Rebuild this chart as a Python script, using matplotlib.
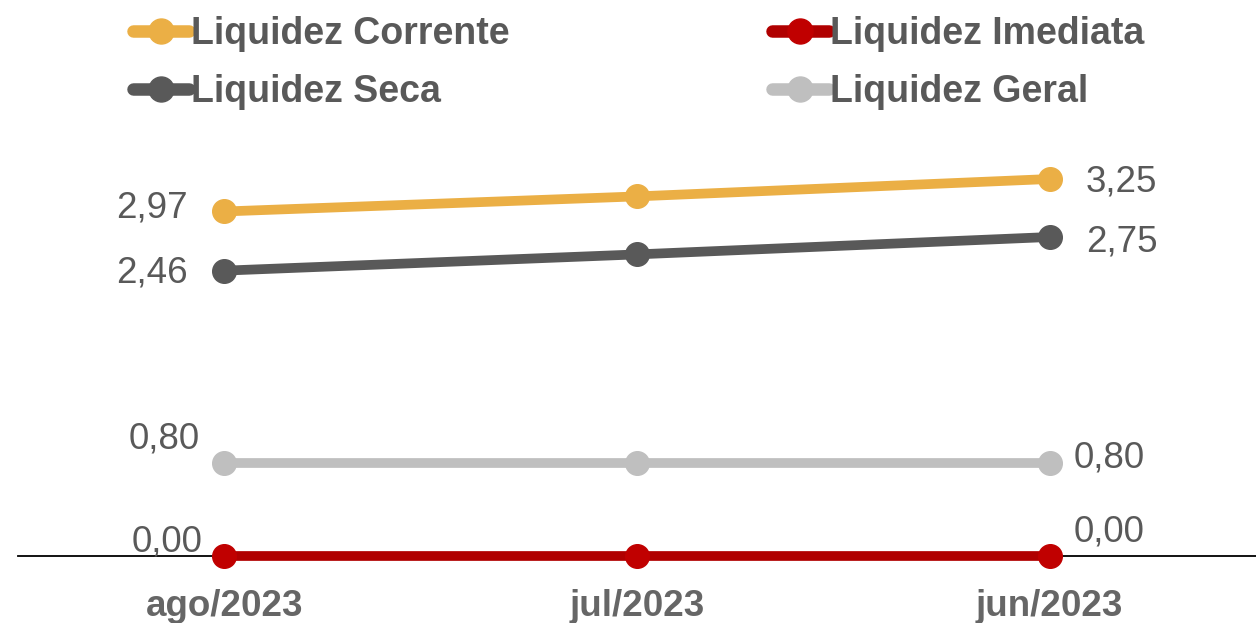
import matplotlib
matplotlib.use('Agg')
import matplotlib.pyplot as plt

plt.rcParams['font.family'] = ['Liberation Sans', 'DejaVu Sans']

meses = ['ago/2023', 'jul/2023', 'jun/2023']
nomes = ['Liquidez Corrente', 'Liquidez Seca', 'Liquidez Imediata', 'Liquidez Geral']
corrente = [2.97, 3.10, 3.25]
seca = [2.46, 2.60, 2.75]
imediata = [0.00, 0.00, 0.00]
geral = [0.80, 0.80, 0.80]

series = [corrente, seca, imediata, geral]
cores_linha = ['#EBAF45', '#595959', '#B00000', '#BFBFBF']
cores_marca = ['#EBAF45', '#595959', '#C00000', '#BFBFBF']
# deslocamentos dos rótulos (pixels) no primeiro e no último ponto
desl_esq = [(-37, 3), (-37, -2), (-22, 14), (-25, 24)]
desl_dir = [(36, -3), (36, -5), (24, 24), (24, 5)]
cinza = '#595959'

fig = plt.figure(figsize=(12.56, 6.23), dpi=100)
ax = fig.add_axes([18 / 1256, 1 - 556 / 623, 1 - 18 / 1256, 431 / 623])

x = list(range(len(meses)))
for serie, nome, cl, cm, de, dd in zip(series, nomes, cores_linha, cores_marca, desl_esq, desl_dir):
    ax.plot(x, serie, color=cl, lw=7, marker='o', markersize=17,
            markerfacecolor=cm, markeredgecolor=cm, solid_capstyle='round',
            label=nome, clip_on=False, zorder=3)
    ax.annotate(f'{serie[0]:.2f}'.replace('.', ','), (x[0], serie[0]), xytext=de,
                textcoords='offset pixels', ha='right', va='center',
                fontsize=26.5, color=cinza)
    ax.annotate(f'{serie[-1]:.2f}'.replace('.', ','), (x[-1], serie[-1]), xytext=dd,
                textcoords='offset pixels', ha='left', va='center',
                fontsize=26.5, color=cinza)

ax.set_xlim(-0.5, 2.5)
ax.set_ylim(0, 431 / 116)
ax.set_xticks(x)
ax.set_xticklabels(meses, fontsize=26.5, fontweight='bold', color='#666666')
ax.tick_params(axis='x', length=0, pad=24)
ax.set_yticks([])
for lado in ['top', 'right', 'left']:
    ax.spines[lado].set_visible(False)
ax.spines['bottom'].set_color('#000000')
ax.spines['bottom'].set_linewidth(1.3)
ax.spines['bottom'].set_zorder(2)

leg = fig.legend(loc='upper left', bbox_to_anchor=(133 / 1256, 1 - 16 / 623), ncol=2,
                 frameon=False, borderpad=0, borderaxespad=0, handlelength=1.5,
                 handletextpad=0.05, columnspacing=7.0, labelspacing=0.6,
                 prop={'size': 27, 'weight': 'bold'}, labelcolor=cinza)
for h in leg.legend_handles:
    h.set_linewidth(9)
    h.set_markersize(18)

fig.savefig('out.png', dpi=100)
